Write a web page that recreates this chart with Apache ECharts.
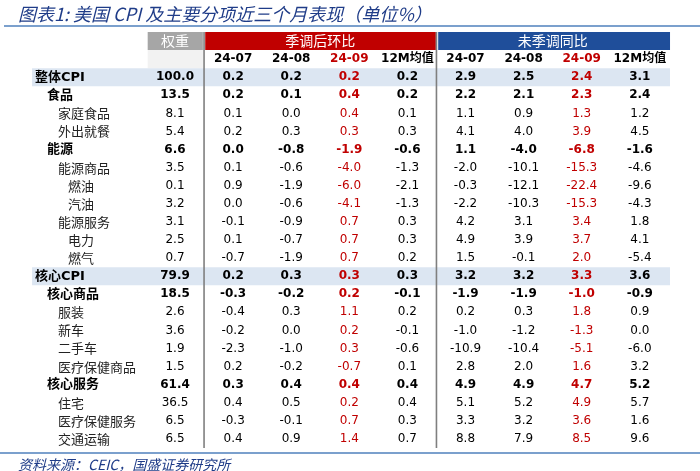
<!DOCTYPE html>
<html>
<head>
<meta charset="utf-8">
<script src="https://cdn.jsdelivr.net/npm/echarts@6/dist/echarts.min.js"></script>
<style>
html, body { margin: 0; padding: 0; background: #fff; }
#main { width: 700px; height: 471px; }
</style>
</head>
<body>
<div id="main"></div>
<script>
// row labels and their indent level (0 = total, 1 = group, 2/3 = sub items)
var rowNames = ['整体CPI', '食品', '家庭食品', '外出就餐', '能源', '能源商品', '燃油', '汽油', '能源服务', '电力', '燃气',
    '核心CPI', '核心商品', '服装', '新车', '二手车', '医疗保健商品', '核心服务', '住宅', '医疗保健服务', '交通运输'];
var rowLevels = [0, 1, 2, 2, 1, 2, 3, 3, 2, 3, 3, 0, 1, 2, 2, 2, 2, 1, 2, 2, 2];
var weights = [100.0, 13.5, 8.1, 5.4, 6.6, 3.5, 0.1, 3.2, 3.1, 2.5, 0.7, 79.9, 18.5, 2.6, 3.6, 1.9, 1.5, 61.4, 36.5, 6.5, 6.5];
var periods = ['24-07', '24-08', '24-09', '12M均值'];
var groups = ['季调后环比', '未季调同比'];

// 季调后环比
var saJul = [0.2, 0.2, 0.1, 0.2, 0.0, 0.1, 0.9, 0.0, -0.1, 0.1, -0.7, 0.2, -0.3, -0.4, -0.2, -2.3, 0.2, 0.3, 0.4, -0.3, 0.4];
var saAug = [0.2, 0.1, 0.0, 0.3, -0.8, -0.6, -1.9, -0.6, -0.9, -0.7, -1.9, 0.3, -0.2, 0.3, 0.0, -1.0, -0.2, 0.4, 0.5, -0.1, 0.9];
var saSep = [0.2, 0.4, 0.4, 0.3, -1.9, -4.0, -6.0, -4.1, 0.7, 0.7, 0.7, 0.3, 0.2, 1.1, 0.2, 0.3, -0.7, 0.4, 0.2, 0.7, 1.4];
var sa12m = [0.2, 0.2, 0.1, 0.3, -0.6, -1.3, -2.1, -1.3, 0.3, 0.3, 0.2, 0.3, -0.1, 0.2, -0.1, -0.6, 0.1, 0.4, 0.4, 0.3, 0.7];

// 未季调同比
var yoyJul = [2.9, 2.2, 1.1, 4.1, 1.1, -2.0, -0.3, -2.2, 4.2, 4.9, 1.5, 3.2, -1.9, 0.2, -1.0, -10.9, 2.8, 4.9, 5.1, 3.3, 8.8];
var yoyAug = [2.5, 2.1, 0.9, 4.0, -4.0, -10.1, -12.1, -10.3, 3.1, 3.9, -0.1, 3.2, -1.9, 0.3, -1.2, -10.4, 2.0, 4.9, 5.2, 3.2, 7.9];
var yoySep = [2.4, 2.3, 1.3, 3.9, -6.8, -15.3, -22.4, -15.3, 3.4, 3.7, 2.0, 3.3, -1.0, 1.8, -1.3, -5.1, 1.6, 4.7, 4.9, 3.6, 8.5];
var yoy12m = [3.1, 2.4, 1.2, 4.5, -1.6, -4.6, -9.6, -4.3, 1.8, 4.1, -5.4, 3.6, -0.9, 0.9, 0.0, -6.0, 3.2, 5.2, 5.7, 1.6, 9.6];

var RED = '#c00000';
var BLUE = '#1f4e9a';
var numFont = '"DejaVu Sans", "Noto Sans CJK SC", sans-serif';
var cjkFont = '"Noto Sans CJK SC", sans-serif';

// x: 0 = weight, 1..4 = 季调后环比, 5..8 = 未季调同比 ; y: 0,1 header rows, then data rows
var valueCols = [weights, saJul, saAug, saSep, sa12m, yoyJul, yoyAug, yoySep, yoy12m];
var HEAD1 = 0, HEAD2 = 1, FIRST = 2;
var LAST = FIRST + rowNames.length - 1;

var cells = [];
cells.push({ x: 0, y: HEAD1, text: '权重', color: '#fff', size: 14, font: cjkFont });
cells.push({ x: 2.5, y: HEAD1, text: groups[0], color: '#fff', size: 14, font: cjkFont });
cells.push({ x: 6.5, y: HEAD1, text: groups[1], color: '#fff', size: 14, font: cjkFont });
periods.forEach(function (p, i) {
    var c = i == 2 ? RED : '#000';
    cells.push({ x: 1 + i, y: HEAD2, text: p, color: c, bold: true });
    cells.push({ x: 5 + i, y: HEAD2, text: p, color: c, bold: true });
});
valueCols.forEach(function (col, c) {
    col.forEach(function (v, r) {
        cells.push({
            x: c, y: FIRST + r, text: v.toFixed(1),
            color: (c == 3 || c == 7) ? RED : '#000',
            bold: rowLevels[r] < 2
        });
    });
});

var boxes = [
    { x0: -0.47, x1: 0.48, y: HEAD1, color: '#a6a6a6' },
    { x0: -0.47, x1: 0.48, y: HEAD2, color: '#f2f2f2' },
    { x0: 0.52, x1: 4.49, y: HEAD1, color: RED },
    { x0: 4.53, x1: 8.52, y: HEAD1, color: BLUE }
];
rowLevels.forEach(function (lv, r) {
    if (lv == 0) boxes.push({ x0: -2.46, x1: 8.52, y: FIRST + r, color: '#dce6f2' });
});

var separators = [0.5, 4.5];

var chart = echarts.init(document.getElementById('main'), null, { renderer: 'canvas' });

chart.setOption({
    animation: false,
    backgroundColor: '#fff',
    title: [{
        text: '图表1: 美国 CPI 及主要分项近三个月表现（单位%）',
        left: 13, top: 0,
        textStyle: { fontSize: 18, fontStyle: 'italic', fontWeight: 'normal', color: '#1f3c88', fontFamily: cjkFont }
    }, {
        text: '资料来源：CEIC，国盛证券研究所',
        left: 13, top: 453,
        textStyle: { fontSize: 14, fontStyle: 'italic', fontWeight: 'normal', color: '#1f3c88', fontFamily: cjkFont }
    }],
    graphic: [
        { type: 'line', shape: { x1: 4, y1: 26, x2: 700, y2: 26 }, style: { stroke: '#4f81bd', lineWidth: 1.5 } },
        { type: 'line', shape: { x1: 0, y1: 453, x2: 700, y2: 453 }, style: { stroke: '#4f81bd', lineWidth: 1.5 } }
    ],
    grid: { left: 0, right: 0, top: 32, bottom: 23 },
    xAxis: { type: 'value', min: -3.012, max: 9.036, show: false },
    yAxis: {
        type: 'category',
        inverse: true,
        z: 10,
        data: ['h1', 'h2'].concat(rowNames),
        axisLine: { show: false },
        axisTick: { show: false },
        splitLine: { show: false },
        axisLabel: {
            interval: 0,
            align: 'left',
            margin: -35,
            formatter: function (value, index) {
                if (index < FIRST) return '';
                return '{l' + rowLevels[index - FIRST] + '|' + value + '}';
            },
            rich: {
                l0: { fontSize: 13, fontWeight: 'bold', color: '#000', fontFamily: numFont },
                l1: { fontSize: 13, fontWeight: 'bold', color: '#000', fontFamily: numFont, padding: [0, 0, 0, 12] },
                l2: { fontSize: 13, color: '#222', fontFamily: cjkFont, padding: [0, 0, 0, 23] },
                l3: { fontSize: 13, color: '#222', fontFamily: cjkFont, padding: [0, 0, 0, 33] }
            }
        }
    },
    series: [{
        type: 'custom',
        z: 0,
        data: boxes.map(function (b) { return [b.x0, b.y]; }),
        renderItem: function (params, api) {
            var b = boxes[params.dataIndex];
            var p0 = api.coord([b.x0, b.y]);
            var p1 = api.coord([b.x1, b.y]);
            var h = api.size([0, 1])[1];
            return {
                type: 'rect',
                shape: { x: p0[0], y: p0[1] - h / 2, width: p1[0] - p0[0], height: h },
                style: { fill: b.color }
            };
        }
    }, {
        type: 'custom',
        z: 2,
        data: separators.map(function (s) { return [s, FIRST]; }),
        renderItem: function (params, api) {
            var s = separators[params.dataIndex];
            var h = api.size([0, 1])[1];
            var top = api.coord([s, HEAD1]);
            var bot = api.coord([s, LAST]);
            return {
                type: 'line',
                shape: { x1: top[0], y1: top[1] - h / 2, x2: bot[0], y2: bot[1] + h / 2 },
                style: { stroke: '#7f7f7f', lineWidth: 1.6 }
            };
        }
    }, {
        type: 'custom',
        z: 3,
        data: cells.map(function (d) { return [d.x, d.y]; }),
        renderItem: function (params, api) {
            var d = cells[params.dataIndex];
            var p = api.coord([d.x, d.y]);
            return {
                type: 'text',
                x: p[0], y: p[1],
                style: {
                    text: d.text,
                    fill: d.color,
                    fontSize: d.size || 12,
                    fontFamily: d.font || numFont,
                    fontWeight: d.bold ? 'bold' : 'normal',
                    align: 'center',
                    verticalAlign: 'middle'
                }
            };
        }
    }]
});
</script>
</body>
</html>
